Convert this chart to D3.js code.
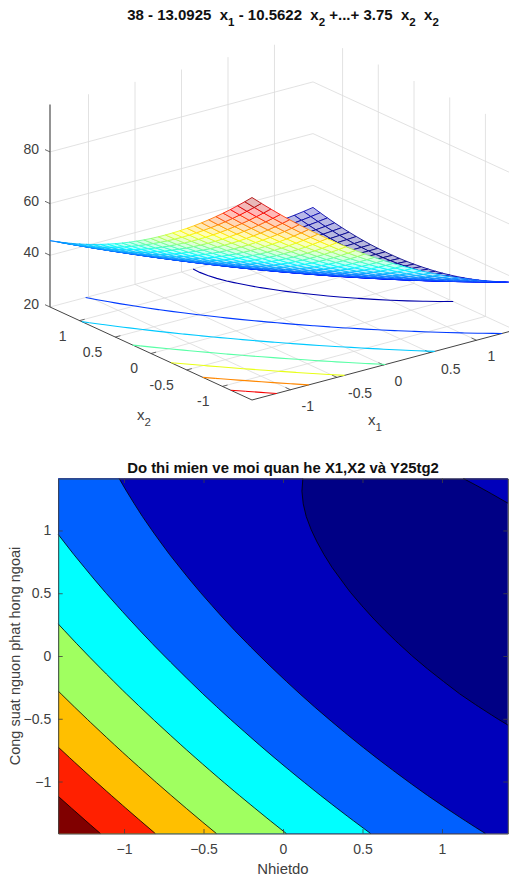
<!DOCTYPE html>
<html>
<head>
<meta charset="utf-8">
<script src="https://cdn.jsdelivr.net/npm/d3@7"></script>
<style>
html,body{margin:0;padding:0;background:#fff;overflow:hidden;}
svg{display:block;}
text{font-family:"Liberation Sans",Arial,sans-serif;fill:#404040;}
</style>
</head>
<body>
<div id="chart"></div>
<script>
// grid nodes along x1 (columns) and x2 (rows)
var gridNodes = [-1.414,-1.313,-1.212,-1.111,-1.01,-0.909,-0.808,-0.707,-0.606,-0.505,-0.404,-0.303,-0.202,-0.101,0,0.101,0.202,0.303,0.404,0.505,0.606,0.707,0.808,0.909,1.01,1.111,1.212,1.313,1.414];

// response values, one row per x2 node (x2 = -1.414 first)
var surfaceZ = [
[98.34,95.10,91.94,88.86,85.87,82.97,80.13,77.39,74.71,72.13,69.63,67.20,64.87,62.60,60.43,58.34,56.32,54.39,52.53,50.77,49.08,47.47,45.95,44.50,43.15,41.87,40.67,39.56,38.51],
[95.42,92.25,89.14,86.12,83.19,80.34,77.57,74.88,72.27,69.74,67.29,64.93,62.65,60.45,58.33,56.29,54.34,52.46,50.67,48.96,47.32,45.78,44.31,42.93,41.63,40.41,39.27,38.21,37.23],
[92.59,89.47,86.42,83.47,80.59,77.80,75.08,72.45,69.90,67.43,65.04,62.73,60.52,58.37,56.31,54.33,52.43,50.62,48.88,47.23,45.65,44.17,42.76,41.43,40.19,39.02,37.95,36.95,36.02],
[89.82,86.76,83.78,80.88,78.06,75.33,72.67,70.10,67.60,65.19,62.86,60.61,58.45,56.36,54.36,52.44,50.60,48.84,47.16,45.57,44.05,42.62,41.27,40.00,38.82,37.71,36.69,35.76,34.89],
[87.14,84.14,81.21,78.37,75.60,72.93,70.33,67.82,65.38,63.03,60.76,58.56,56.46,54.43,52.49,50.63,48.85,47.15,45.52,43.99,42.53,41.16,39.87,38.66,37.54,36.48,35.52,34.64,33.83],
[84.54,81.59,78.72,75.94,73.23,70.62,68.08,65.62,63.24,60.95,58.73,56.60,54.56,52.58,50.70,48.90,47.17,45.53,43.97,42.49,41.09,39.78,38.54,37.39,36.33,35.33,34.43,33.61,32.85],
[82.00,79.12,76.30,73.58,70.93,68.38,65.89,63.50,61.17,58.94,56.78,54.71,52.72,50.81,48.98,47.23,45.57,43.98,42.48,41.06,39.72,38.46,37.29,36.19,35.19,34.25,33.41,32.64,31.95],
[79.55,76.72,73.96,71.30,68.71,66.21,63.79,61.45,59.18,57.01,54.91,52.89,50.96,49.11,47.34,45.65,44.05,42.52,41.07,39.71,38.43,37.23,36.11,35.08,34.13,33.25,32.47,31.76,31.12],
[77.17,74.41,71.71,69.10,66.57,64.13,61.76,59.48,57.27,55.15,53.12,51.16,49.29,47.49,45.78,44.15,42.60,41.13,39.74,38.45,37.22,36.08,35.02,34.04,33.15,32.33,31.60,30.95,30.38],
[74.87,72.16,69.52,66.97,64.50,62.12,59.81,57.59,55.43,53.37,51.39,49.49,47.68,45.94,44.29,42.72,41.23,39.82,38.49,37.25,36.08,34.99,33.99,33.07,32.24,31.48,30.81,30.22,29.70],
[72.65,69.99,67.41,64.92,62.51,60.18,57.93,55.77,53.68,51.67,49.75,47.91,46.16,44.47,42.88,41.37,39.93,38.58,37.31,36.13,35.02,33.99,33.05,32.19,31.41,30.71,30.10,29.57,29.10],
[70.49,67.90,65.37,62.94,60.58,58.32,56.13,54.02,51.99,50.04,48.18,46.39,44.70,43.07,41.54,40.09,38.71,37.42,36.20,35.08,34.02,33.06,32.17,31.37,30.66,30.01,29.46,28.98,28.58],
[68.43,65.89,63.43,61.05,58.75,56.55,54.41,52.36,50.39,48.50,46.70,44.97,43.33,41.77,40.29,38.89,37.58,36.34,35.18,34.12,33.12,32.22,31.39,30.64,29.99,29.40,28.90,28.49,28.14],
[66.43,63.96,61.55,59.23,56.99,54.84,52.77,50.78,48.86,47.03,45.28,43.61,42.04,40.53,39.11,37.77,36.51,35.34,34.24,33.23,32.29,31.44,30.67,29.99,29.39,28.86,28.42,28.06,27.78],
[64.51,62.09,59.74,57.48,55.30,53.21,51.19,49.26,47.40,45.63,43.94,42.33,40.81,39.36,38.00,36.72,35.52,34.40,33.36,32.41,31.53,30.74,30.03,29.40,28.86,28.39,28.01,27.71,27.48],
[62.67,60.30,58.01,55.81,53.69,51.66,49.69,47.82,46.02,44.31,42.68,41.13,39.66,38.27,36.97,35.75,34.61,33.54,32.56,31.67,30.85,30.12,29.47,28.89,28.41,28.00,27.68,27.44,27.26],
[60.90,58.60,56.36,54.22,52.16,50.18,48.28,46.47,44.72,43.07,41.49,40.00,38.60,37.26,36.02,34.86,33.77,32.77,31.85,31.01,30.25,29.57,28.98,28.47,28.04,27.69,27.43,27.24,27.13],
[59.21,56.96,54.79,52.70,50.70,48.78,46.93,45.18,43.49,41.90,40.38,38.95,37.60,36.33,35.14,34.03,33.01,32.06,31.20,30.42,29.72,29.10,28.57,28.11,27.74,27.45,27.24,27.12,27.06],
[57.60,55.42,53.30,51.27,49.32,47.47,45.68,43.98,42.35,40.82,39.36,37.98,36.69,35.48,34.35,33.30,32.34,31.45,30.64,29.92,29.28,28.72,28.24,27.84,27.54,27.30,27.15,27.08,27.09],
[56.06,53.93,51.87,49.90,48.01,46.21,44.48,42.84,41.28,39.80,38.40,37.08,35.85,34.69,33.62,32.63,31.72,30.89,30.14,29.48,28.89,28.40,27.98,27.64,27.39,27.21,27.12,27.11,27.17],
[54.61,52.53,50.53,48.62,46.79,45.05,43.38,41.80,40.29,38.87,37.52,36.26,35.09,33.99,32.98,32.05,31.20,30.43,29.74,29.13,28.60,28.16,27.80,27.52,27.33,27.21,27.18,27.23,27.34],
[53.22,51.21,49.27,47.41,45.64,43.96,42.34,40.82,39.37,38.00,36.72,35.52,34.41,33.36,32.41,31.54,30.74,30.03,29.40,28.86,28.38,28.00,27.70,27.47,27.34,27.28,27.30,27.41,27.59],
[51.91,49.95,48.07,46.27,44.56,42.93,41.38,39.91,38.52,37.21,35.99,34.84,33.79,32.80,31.91,31.10,30.36,29.71,29.13,28.65,28.23,27.91,27.66,27.50,27.42,27.42,27.50,27.67,27.90],
[50.68,48.79,46.96,45.22,43.57,42.00,40.50,39.10,37.76,36.51,35.35,34.26,33.26,32.34,31.50,30.74,30.07,29.47,28.95,28.53,28.17,27.90,27.72,27.61,27.59,27.65,27.79,28.01,28.31],
[49.53,47.69,45.92,44.24,42.65,41.14,39.70,38.35,37.07,35.88,34.77,33.75,32.81,31.94,31.16,30.46,29.84,29.30,28.85,28.48,28.18,27.97,27.84,27.79,27.83,27.95,28.15,28.43,28.78],
[48.45,46.67,44.95,43.33,41.79,40.34,38.96,37.67,36.45,35.32,34.27,33.30,32.42,31.61,30.89,30.25,29.69,29.21,28.81,28.50,28.26,28.11,28.04,28.05,28.15,28.32,28.58,28.91,29.32],
[47.45,45.73,44.08,42.51,41.03,39.64,38.32,37.09,35.92,34.85,33.86,32.95,32.12,31.37,30.71,30.13,29.63,29.20,28.86,28.61,28.43,28.33,28.32,28.39,28.55,28.78,29.09,29.49,29.96],
[46.53,44.86,43.27,41.77,40.34,39.01,37.74,36.57,35.46,34.45,33.52,32.66,31.90,31.20,30.60,30.08,29.63,29.27,28.98,28.79,28.67,28.63,28.68,28.80,29.02,29.30,29.68,30.14,30.66],
[45.67,44.07,42.53,41.09,39.72,38.44,37.24,36.12,35.08,34.12,33.24,32.45,31.74,31.11,30.56,30.09,29.71,29.40,29.18,29.04,28.97,29.00,29.10,29.29,29.56,29.90,30.34,30.85,31.44]
];

var contourLevels = [30,40,50,60,70,80,90];
var bandColors = ["#000085","#0000bb","#0060ff","#00ffff","#a0ff60","#ffbf00","#ff2000","#800000"];
var axisTicks = [-1,-0.5,0,0.5,1];
var zTicks = [20,40,60,80];
var zRange = [20,98.34];

var svg = d3.select("#chart").append("svg").attr("width", 509).attr("height", 879);

var jet = d3.scaleLinear()
	.domain([0,0.125,0.375,0.625,0.875,1])
	.range(["#000080","#0000ff","#00ffff","#ffff00","#ff0000","#800000"]);
var zColor = d3.scaleLinear().domain([27.06,98.34]).range([0,1]);

function colorOf(z){
	return jet(zColor(z));
}

//contour polygons from the z table
var flatZ = d3.merge(surfaceZ);
var polygons = d3.contours().size([gridNodes.length, gridNodes.length]).thresholds(contourLevels)(flatZ);
var cellToData = d3.scaleLinear().domain([0.5, gridNodes.length - 0.5]).range([-1.414, 1.414]).clamp(true);

function toData(p){
	return [cellToData(p[0]), cellToData(p[1])];
}

function onSameEdge(a, b){
	if(a[0] == b[0] && Math.abs(a[0]) == 1.414) return true;
	if(a[1] == b[1] && Math.abs(a[1]) == 1.414) return true;
	return false;
}

//the rings run along the border too, keep only the curves inside
function openLines(geom){
	var lines = [];
	geom.coordinates.forEach(function(poly){
		poly.forEach(function(ring){
			var cur = [];
			ring.map(toData).forEach(function(p){
				if(cur.length && onSameEdge(cur[cur.length - 1], p)){
					if(cur.length > 1) lines.push(cur);
					cur = [p];
				}
				else cur.push(p);
			});
			if(cur.length > 1) lines.push(cur);
		});
	});
	return lines;
}


/////////////// top chart: mesh with contours on the floor

var x1Pos = d3.scaleLinear().domain([-1.414,1.414]).range([0,1]);
var x2Pos = d3.scaleLinear().domain([-1.414,1.414]).range([0,1]);
var zPos = d3.scaleLinear().domain(zRange).range([0,202.5]);

function project(a, b, c){
	var u = x1Pos(a), v = x2Pos(b);
	return [252 + 263*u - 202*v, 400 - 70*u - 93*v - zPos(c)];
}

var line3 = d3.line();
var top3 = svg.append("g");

function seg(g, a, b, color, width){
	var p = [project(a[0],a[1],a[2]), project(b[0],b[1],b[2])];
	g.append("path").attr("d", line3(p)).attr("fill", "none").attr("stroke", color).attr("stroke-width", width);
}

var grid3 = top3.append("g");
var lo = -1.414, hi = 1.414;
var gridColor = "#dadada";
axisTicks.forEach(function(t){
	seg(grid3, [t,lo,20], [t,hi,20], gridColor, 0.8);
	seg(grid3, [lo,t,20], [hi,t,20], gridColor, 0.8);
	seg(grid3, [t,hi,20], [t,hi,zRange[1]], gridColor, 0.8);
	seg(grid3, [hi,t,20], [hi,t,zRange[1]], gridColor, 0.8);
});
zTicks.forEach(function(t){
	seg(grid3, [lo,hi,t], [hi,hi,t], gridColor, 0.8);
	seg(grid3, [hi,hi,t], [hi,lo,t], gridColor, 0.8);
});

//axes
var axis3 = top3.append("g");
seg(axis3, [lo,lo,20], [hi,lo,20], "#444", 1);
seg(axis3, [lo,lo,20], [lo,hi,20], "#444", 1);
seg(axis3, [lo,hi,20], [lo,hi,zRange[1]], "#666", 1.4);
axisTicks.forEach(function(t){
	seg(axis3, [t,lo,20], [t,lo+0.07,20], "#444", 0.8);
	seg(axis3, [lo,t,20], [lo+0.055,t,20], "#444", 0.8);
});
zTicks.forEach(function(t){
	seg(axis3, [lo,hi,t], [lo,hi+0.07,t], "#444", 0.8);
});

//floor contours, one colour per level
var floor = top3.append("g");
polygons.forEach(function(geom){
	openLines(geom).forEach(function(pts){
		floor.append("path")
			.attr("d", line3(pts.map(function(p){ return project(p[0], p[1], 20); })))
			.attr("fill", "none")
			.attr("stroke", colorOf(geom.value))
			.attr("stroke-width", 1.1);
	});
});

//mesh cells painted from the back corner to the front corner
var mesh = top3.append("g");
for(var r = gridNodes.length - 2; r >= 0; r--){
	for(var c = gridNodes.length - 2; c >= 0; c--){
		var corners = [[c,r],[c+1,r],[c+1,r+1],[c,r+1]];
		var meanZ = d3.mean(corners, function(d){ return surfaceZ[d[1]][d[0]]; });
		var cell = corners.map(function(d){
			return project(gridNodes[d[0]], gridNodes[d[1]], surfaceZ[d[1]][d[0]]);
		});
		mesh.append("path")
			.attr("d", line3(cell) + "Z")
			.attr("fill", d3.interpolateRgb("#fff", colorOf(meanZ))(0.28))
			.attr("stroke", colorOf(meanZ))
			.attr("stroke-width", 0.85);
	}
}

//tick labels
var tickLabels = top3.append("g").style("font-size", "14px");
axisTicks.forEach(function(t){
	var p = project(t, lo, 20);
	tickLabels.append("text").attr("x", p[0] + 11).attr("y", p[1] + 16).attr("dy", "0.35em").text(t);
	var q = project(lo, t, 20);
	tickLabels.append("text").attr("x", q[0] - 13).attr("y", q[1] + 15).attr("dy", "0.35em").attr("text-anchor", "end").text(t);
});
zTicks.forEach(function(t){
	var p = project(lo, hi, t);
	tickLabels.append("text").attr("x", p[0] - 11).attr("y", p[1] - 3).attr("dy", "0.35em").attr("text-anchor", "end").text(t);
});

function subLabel(x, y, sub){
	var t = top3.append("text").attr("x", x).attr("y", y).style("font-size", "15px");
	t.append("tspan").text("x");
	t.append("tspan").attr("dy", 6).style("font-size", "11.5px").text(sub);
}
subLabel(137, 420, "2");
subLabel(368, 425, "1");

var title3 = svg.append("text").attr("x", 283).attr("y", 20).attr("text-anchor", "middle")
	.style("font-size", "15px").style("font-weight", "bold").style("white-space", "pre").style("fill", "#111");
var titleParts = [["38 - 13.0925  x","1"],[" - 10.5622  x","2"],[" +...+ 3.75  x","2"],["  x","2"]];
titleParts.forEach(function(d, i){
	title3.append("tspan").attr("dy", i ? -6 : 0).text(d[0]);
	title3.append("tspan").attr("dy", 6).style("font-size", "11.5px").text(d[1]);
});


/////////////// bottom chart: filled contours

var xScale = d3.scaleLinear().domain([-1.414,1.414]).range([58.2,507.8]);
var yScale = d3.scaleLinear().domain([-1.414,1.414]).range([833.5,478.5]);

var bottom = svg.append("g");
bottom.append("rect")
	.attr("x", xScale(-1.414)).attr("y", yScale(1.414))
	.attr("width", xScale(1.414) - xScale(-1.414))
	.attr("height", yScale(-1.414) - yScale(1.414))
	.attr("fill", bandColors[0]);

var planeLine = d3.line()
	.x(function(d){ return xScale(d[0]); })
	.y(function(d){ return yScale(d[1]); });

polygons.forEach(function(geom, i){
	var d = "";
	geom.coordinates.forEach(function(poly){
		poly.forEach(function(ring){
			d += planeLine(ring.map(toData)) + "Z";
		});
	});
	bottom.append("path").attr("d", d).attr("fill", bandColors[i + 1]).attr("fill-rule", "evenodd");
});

polygons.forEach(function(geom){
	openLines(geom).forEach(function(pts){
		bottom.append("path").attr("d", planeLine(pts))
			.attr("fill", "none").attr("stroke", "#000").attr("stroke-width", 0.8);
	});
});

function styleAxis(g){
	g.selectAll("path").attr("stroke", "#404040").attr("stroke-width", 1);
	g.selectAll("line").attr("stroke", "#404040").attr("stroke-width", 0.8);
	g.selectAll("text").style("font-size", "14px").style("font-family", "'Liberation Sans',Arial,sans-serif").style("fill", "#404040");
}

var bAxis = d3.axisBottom(xScale).tickValues(axisTicks).tickSizeInner(-4.5).tickSizeOuter(0).tickPadding(11).tickFormat(d3.format("~g"));
var lAxis = d3.axisLeft(yScale).tickValues(axisTicks).tickSizeInner(-4.5).tickSizeOuter(0).tickPadding(7).tickFormat(d3.format("~g"));
var tAxis = d3.axisTop(xScale).tickValues(axisTicks).tickSizeInner(-4.5).tickSizeOuter(0).tickFormat("");
var rAxis = d3.axisRight(yScale).tickValues(axisTicks).tickSizeInner(-4.5).tickSizeOuter(0).tickFormat("");

bottom.append("g").attr("transform", "translate(0,833.5)").call(bAxis).call(styleAxis);
bottom.append("g").attr("transform", "translate(58.2,0)").call(lAxis).call(styleAxis);
bottom.append("g").attr("transform", "translate(0,478.5)").call(tAxis).call(styleAxis);
bottom.append("g").attr("transform", "translate(507.8,0)").call(rAxis).call(styleAxis);

svg.append("text").attr("x", 283).attr("y", 473).attr("text-anchor", "middle")
	.style("font-size", "14.9px").style("font-weight", "bold").style("fill", "#111")
	.text("Do thi mien ve moi quan he X1,X2 và Y25tg2");
svg.append("text").attr("x", 283).attr("y", 874).attr("text-anchor", "middle")
	.style("font-size", "14.9px").text("Nhietdo");
svg.append("text").attr("transform", "translate(20,656) rotate(-90)").attr("text-anchor", "middle")
	.style("font-size", "14.5px").text("Cong suat nguon phat hong ngoai");
</script>
</body>
</html>
